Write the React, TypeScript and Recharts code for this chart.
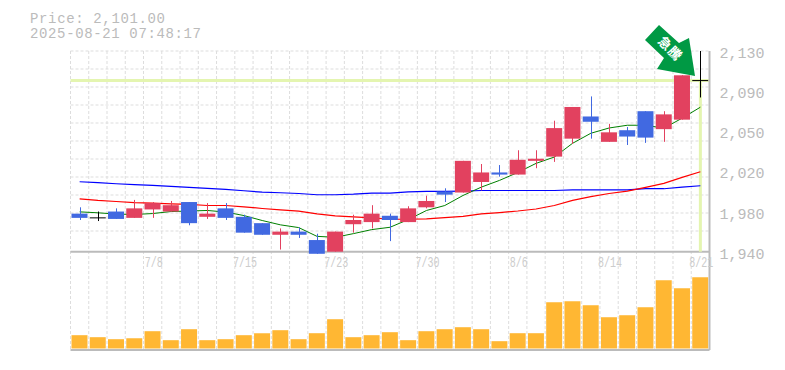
import { Bar, ComposedChart, CartesianGrid, Line, ReferenceLine, XAxis, YAxis } from "recharts";

const dates = ["7/2","7/3","7/4","7/7","7/8","7/9","7/10","7/11","7/14","7/15","7/16","7/17","7/18","7/22","7/23","7/24","7/25","7/28","7/29","7/30","7/31","8/1","8/4","8/5","8/6","8/7","8/8","8/12","8/13","8/14","8/15","8/18","8/19","8/20","8/21"];
const opens = [1976,1972,1978,1972,1980,1978,1987,1973,1981,1973,1967,1956,1959,1951,1940,1966,1968,1974,1968,1982,1997,1996,2006,2015,2013,2026,2030,2047,2068,2044,2055,2073,2056,2065,2102];
const closes = [1972,1972,1971,1981,1986,1984,1967,1976,1972,1958,1956,1959,1956,1938,1959,1970,1976,1970,1981,1988,1994,2026,2015,2013,2027,2028,2057,2077,2063,2053,2049,2048,2070,2107,2102];
const highs = [1982,1978,1981,1989,1987,1988,1987,1986,1986,1975,1967,1962,1963,1957,1959,1975,1984,1976,1983,1993,2000,2026,2023,2022,2036,2036,2064,2077,2087,2061,2058,2073,2073,2107,2130];
const lows = [1970,1969,1971,1972,1972,1978,1965,1971,1970,1958,1956,1942,1953,1938,1940,1958,1962,1950,1968,1981,1987,1996,1998,2011,2013,2019,2025,2042,2047,2044,2041,2043,2044,2065,2086];
const maShort = [1977.7,1976.8,1975.6,1975.2,1976.1,1978,1978.5,1979,1977.5,1974.2,1969.5,1965.4,1962.8,1954.5,1953.6,1957.1,1960.9,1963.1,1970.4,1979,1983.7,1993.2,2001.1,2007.5,2015,2023.6,2029.6,2042.6,2052.1,2057.1,2059.7,2059.7,2056.9,2066.4,2076.8];
const maMid = [1990,1988.5,1987.5,1986.5,1985.9,1985.3,1984.7,1983.7,1983.7,1982.5,1980.9,1979.6,1978.3,1975.8,1973.9,1973,1972,1970.7,1970.7,1971.1,1972.3,1973.5,1975.8,1977,1978.5,1980.4,1983.7,1988.5,1992.2,1995.1,1997.3,2000.8,2004.6,2010.3,2015.7];
const maLong = [2006.2,2005.3,2004.3,2003.4,2002.7,2001.8,2000.8,1999.9,1998.9,1997.7,1996.3,1995.8,1995.1,1993.9,1993.9,1994.4,1995.4,1995.4,1996.7,1997,1997,1997.3,1997.9,1997.9,1997.9,1997.9,1997.9,1998.6,1998.6,1998.6,1998.6,1999.6,1999.6,2001.1,2002.4];
const volumes = [40,34,28,31,52,25,58,25,28,40,46,55,28,46,88,34,40,49,25,52,58,64,58,22,46,46,139,142,130,94,100,124,205,181,214];

const dateTicks = ["7/8","7/15","7/23","7/30","8/6","8/14","8/21"];
const priceTicks = [1940,1978,2016,2054,2092,2130];
const priceLine = 2102;

const data = dates.map((date, i) => ({
  date,
  open: opens[i],
  close: closes[i],
  range: [lows[i], highs[i]],
  maShort: maShort[i],
  maMid: maMid[i],
  maLong: maLong[i],
  volume: volumes[i],
}));

const plotLeft = 70.5;
const plotTop = 51;
const slot = 639 / 35;
const gridX = dates.map((_, i) => plotLeft + i * slot);
const gridY = Array.from({ length: 11 }, (_, i) => plotTop + i * 18);

function Candle(props: any) {
  const { x, y, width, height, payload } = props;
  const [low, high] = payload.range;
  const perUnit = height / (high - low);
  const top = y + (high - Math.max(payload.open, payload.close)) * perUnit;
  const bottom = y + (high - Math.min(payload.open, payload.close)) * perUnit;
  const doji = payload.open === payload.close;
  const color = doji ? "#000" : payload.close > payload.open ? "#e2415f" : "#4169e1";
  const mid = Math.round(x + width / 2) + 0.5;
  return (
    <g>
      <line x1={mid} x2={mid} y1={y} y2={y + height} stroke={color} strokeWidth={1} />
      {doji ? (
        <line x1={x} x2={x + width} y1={top} y2={top} stroke={color} strokeWidth={1} />
      ) : (
        <rect x={x} y={top} width={width} height={bottom - top} fill={color} />
      )}
    </g>
  );
}

function DateTick(props: any) {
  const { x, y, payload } = props;
  return (
    <text x={x + 1} y={y - 83} textAnchor="middle" fontFamily="'Liberation Mono'" fontSize={14} fill="#ccc" textLength={payload.value.length * 6} lengthAdjust="spacingAndGlyphs" dy={-8}>
      {payload.value}
    </text>
  );
}

function PriceTick(props: any) {
  const { x, y, payload } = props;
  const label = (Math.round(payload.value / 10) * 10).toLocaleString("en-US");
  return (
    <text x={x + 2} y={y + 7} fontFamily="'Liberation Mono'" fontSize={15} fill="#bbb">
      {label}
    </text>
  );
}

export default function App() {
  return (
    <div style={{ position: "absolute", left: 0, top: 0 }}>
      <ComposedChart
        width={785}
        height={370}
        data={data}
        margin={{ top: plotTop, right: 0.5, bottom: 19, left: plotLeft }}
      >
        <CartesianGrid
          xAxisId="price"
          yAxisId="price"
          stroke="#ddd"
          strokeDasharray="3 2"
          horizontalPoints={gridY}
          verticalPoints={gridX}
        />
        <XAxis xAxisId="price" dataKey="date" ticks={dateTicks} interval={0} height={1} tick={DateTick} tickLine={false} axisLine={{ stroke: "#bbb", strokeWidth: 2 }} />
        <XAxis xAxisId="volume" dataKey="date" hide />
        <YAxis yAxisId="price" orientation="right" domain={[1846.9, 2130]} allowDataOverflow ticks={priceTicks} interval={0} width={75} tick={PriceTick} tickLine={false} axisLine={{ stroke: "#bbb", strokeWidth: 2 }} />
        <YAxis yAxisId="volume" domain={[-4.5, 894]} allowDataOverflow hide />
        <ReferenceLine xAxisId="price" yAxisId="price" y={1940} stroke="#bbb" strokeWidth={2} zIndex={10} />
        <ReferenceLine xAxisId="price" yAxisId="price" y={priceLine} stroke="#e4f5b0" strokeWidth={3} zIndex={10} />
        <ReferenceLine
          xAxisId="price"
          yAxisId="price"
          stroke="#e4f5b0"
          strokeWidth={3}
          zIndex={10}
          segment={[{ x: "8/21", y: priceLine }, { x: "8/21", y: 1940 }]}
        />
        <Bar xAxisId="volume" yAxisId="volume" dataKey="volume" barSize={16} fill="#ffb733" isAnimationActive={false} zIndex={20} />
        <Line xAxisId="price" yAxisId="price" dataKey="maLong" stroke="#0000ff" strokeWidth={1.2} dot={false} isAnimationActive={false} zIndex={30} />
        <Line xAxisId="price" yAxisId="price" dataKey="maMid" stroke="#ff0000" strokeWidth={1.2} dot={false} isAnimationActive={false} zIndex={30} />
        <Line xAxisId="price" yAxisId="price" dataKey="maShort" stroke="#008000" strokeWidth={1} dot={false} isAnimationActive={false} zIndex={30} />
        <Bar xAxisId="price" yAxisId="price" dataKey="range" barSize={16} shape={Candle} isAnimationActive={false} zIndex={40} />
        <text x={30} y={22.5} fontFamily="'Liberation Mono'" fontSize={14} fill="#bbb" textLength={135} lengthAdjust="spacing">Price: 2,101.00</text>
        <text x={30} y={38.4} fontFamily="'Liberation Mono'" fontSize={14} fill="#bbb" textLength={171} lengthAdjust="spacing">2025-08-21 07:48:17</text>
        <g>
          <polygon points="659,25 645,40 664,58 657,69 695,76 689,38 679,43" fill="#009944" />
          <text x={667} y={52} transform="rotate(45 667 52)" textAnchor="middle" fontFamily="'Noto Sans CJK JP'" fontWeight={700} fontSize={13} letterSpacing={1} fill="#fff">急騰</text>
        </g>
      </ComposedChart>
    </div>
  );
}
